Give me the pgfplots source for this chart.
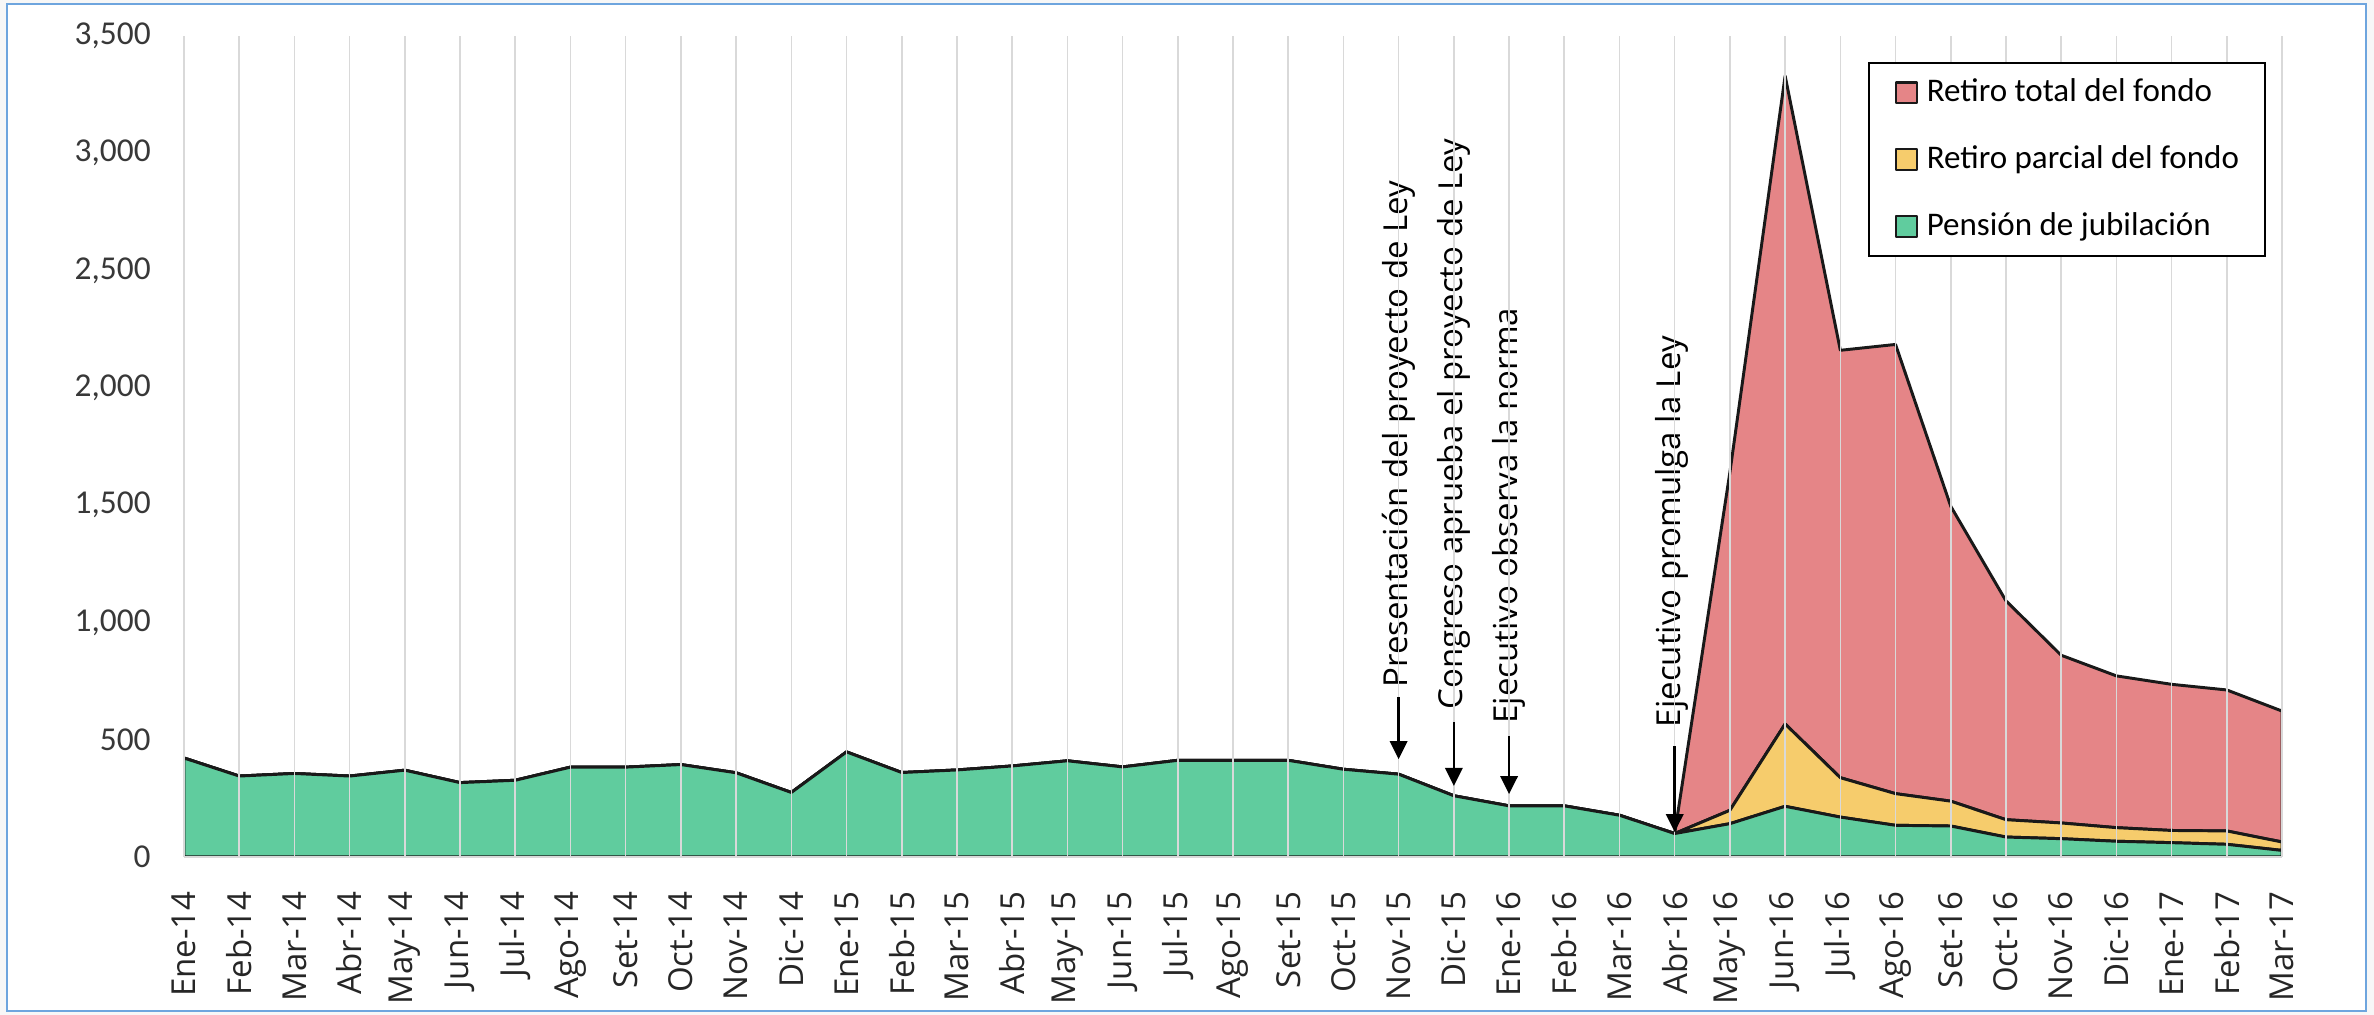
\documentclass[border=0pt]{standalone}
\usepackage{fontspec}
\setmainfont{Carlito}
\newfontfamily\osans{Open Sans}
\usepackage{pgfplots}
\pgfplotsset{compat=1.18}
\usepackage{pgfplotstable}
\usetikzlibrary{arrows.meta}

\definecolor{cgreen}{RGB}{96,204,158}
\definecolor{cyellow}{RGB}{246,204,108}
\definecolor{cred}{RGB}{229,133,135}
\definecolor{framecol}{RGB}{110,165,222}
\definecolor{gridcol}{RGB}{217,217,217}

\pgfplotstableread{
idx pen par tot
0 422 0 0
1 345 0 0
2 356 0 0
3 345 0 0
4 370 0 0
5 317 0 0
6 327 0 0
7 383 0 0
8 383 0 0
9 394 0 0
10 359 0 0
11 275 0 0
12 448 0 0
13 360 0 0
14 371 0 0
15 388 0 0
16 410 0 0
17 384 0 0
18 412 0 0
19 412 0 0
20 412 0 0
21 374 0 0
22 353 0 0
23 261 0 0
24 218 0 0
25 218 0 0
26 178 0 0
27 100 0 0
28 142 57 1441
29 216 351 2763
30 170 168 1822
31 135 135 1915
32 132 106 1257
33 85 74 933
34 78 67 715
35 67 58 647
36 61 52 623
37 54 57 601
38 28 36 558
}\datatable

\begin{document}
\begin{tikzpicture}
\fill[gray!6] (-1.860,-1.597) rectangle (22.141,8.664);
\fill[white] (-1.790,-1.557) rectangle (22.060,8.624);
\begin{axis}[
  at={(0,0)}, anchor=south west,
  scale only axis,
  width=21.211cm, height=8.300cm,
  xmin=0, xmax=38, ymin=0, ymax=3500,
  stack plots=y,
  axis on top,
  separate axis lines,
  axis x line*=bottom, axis y line*=left,
  x axis line style={draw=gridcol, line width=0.6pt},
  y axis line style={draw=none},
  major tick length=0pt,
  xtick={0,...,38},
  xticklabels={Ene-14,Feb-14,Mar-14,Abr-14,May-14,Jun-14,Jul-14,Ago-14,Set-14,Oct-14,Nov-14,Dic-14,Ene-15,Feb-15,Mar-15,Abr-15,May-15,Jun-15,Jul-15,Ago-15,Set-15,Oct-15,Nov-15,Dic-15,Ene-16,Feb-16,Mar-16,Abr-16,May-16,Jun-16,Jul-16,Ago-16,Set-16,Oct-16,Nov-16,Dic-16,Ene-17,Feb-17,Mar-17},
  xticklabel style={yshift=-0.34cm, rotate=90, anchor=east, inner sep=0pt, font=\osans\fontsize{9.5}{10}\selectfont, color=black!85},
  ytick={0,500,...,3500},
  scaled y ticks=false,
  /pgf/number format/.cd, fixed, 1000 sep={,}, assume math mode=true,
  /pgfplots/.cd,
  yticklabel style={inner sep=0pt, xshift=-0.33cm, font=\fontsize{9.6}{11}\selectfont, color=black!78},
  xmajorgrids,
  major grid style={draw=gridcol, line width=0.45pt},
  legend style={at={(0.8027,0.968)}, anchor=north west, draw=black, line width=0.6pt, fill=white,
    font=\fontsize{9.5}{11}\selectfont, inner xsep=7.5pt, inner ysep=4pt, row sep=10.2pt,
    nodes={inner sep=0pt, text height=7pt, text depth=2pt},
    /tikz/every odd column/.append style={column sep=2.5pt}},
  legend cell align=left,
  reverse legend,
  legend image code/.code={\draw[#1, line width=0.6pt] (0cm,-0.105cm) rectangle (0.21cm,0.105cm);},
]
\addplot[draw=black!90, line width=0.85pt, line join=round, fill=cgreen] table[x=idx,y=pen]{\datatable} \closedcycle;
\addplot[draw=black!90, line width=0.85pt, line join=round, fill=cyellow] table[x=idx,y=par]{\datatable} \closedcycle;
\addplot[draw=black!90, line width=0.85pt, line join=round, fill=cred] table[x=idx,y=tot]{\datatable} \closedcycle;
\legend{Pensión de jubilación, Retiro parcial del fondo, Retiro total del fondo}

\node[rotate=90, anchor=west, inner sep=0pt, font=\osans\fontsize{9.5}{11}\selectfont] at (axis cs:22,719) {Presentación del proyecto de Ley};
\node[rotate=90, anchor=west, inner sep=0pt, font=\osans\fontsize{9.5}{11}\selectfont] at (axis cs:23,625) {Congreso aprueba el proyecto de Ley};
\node[rotate=90, anchor=west, inner sep=0pt, font=\osans\fontsize{9.5}{11}\selectfont] at (axis cs:24,566) {Ejecutivo observa la norma};
\node[xshift=-0.03cm, rotate=90, anchor=west, inner sep=0pt, font=\osans\fontsize{9.5}{11}\selectfont] at (axis cs:27,551) {Ejecutivo promulga la Ley};
\coordinate (a1s) at (axis cs:22,680); \coordinate (a1e) at (axis cs:22,417);
\coordinate (a2s) at (axis cs:23,574); \coordinate (a2e) at (axis cs:23,303);
\coordinate (a3s) at (axis cs:24,516); \coordinate (a3e) at (axis cs:24,268);
\coordinate (a4s) at (axis cs:27,473); \coordinate (a4e) at (axis cs:27,106);
\end{axis}
\foreach \a in {1,2,3,4}{
  \draw[-{Triangle[length=5.2pt,width=5pt]}, line width=0.75pt] (a\a s) -- (a\a e);
}
\draw[framecol, line width=0.8pt] (-1.790,-1.557) rectangle (22.060,8.624);
\pgfresetboundingbox
\path[use as bounding box] (-1.860,-1.597) rectangle (22.141,8.664);
\end{tikzpicture}
\end{document}
